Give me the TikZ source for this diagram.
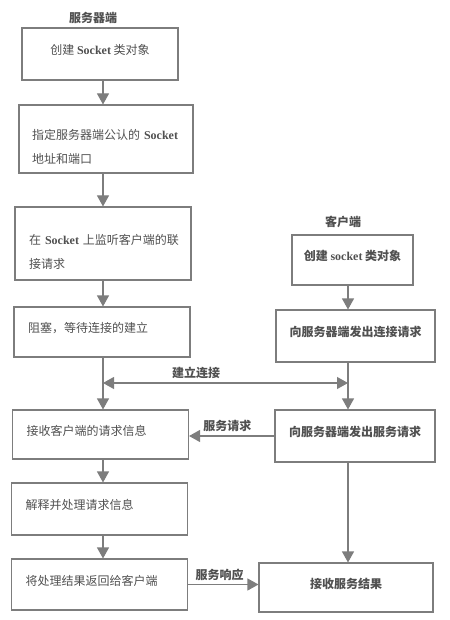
\documentclass[tikz,border=0pt]{standalone}
\usepackage{fontspec}
\setmainfont{Liberation Serif}
\newfontfamily\cjk{Noto Sans CJK SC}
\usetikzlibrary{arrows.meta}
\definecolor{linegray}{RGB}{125,125,125}
\definecolor{textgray}{RGB}{80,80,80}
\newcommand\lat[1]{{\rmfamily\bfseries #1}}

\begin{document}
\begin{tikzpicture}[x=1pt, y=-1pt,
  box/.style={rectangle, draw=linegray, line width=1.1pt, text=textgray, inner sep=0pt, text depth=9pt, font=\cjk\fontsize{12}{24}\selectfont},
  lbox/.style={box, align=left, minimum width=176pt, text width=148pt},
  rbox/.style={box, font=\cjk\bfseries\fontsize{12}{24}\selectfont},
  lab/.style={text=textgray, font=\cjk\bfseries\fontsize{12}{14}\selectfont},
  arr/.style={draw=linegray, line width=1.1pt, -{Triangle[width=12pt,length=11pt]}},
  darr/.style={draw=linegray, line width=1.1pt, {Triangle[width=12pt,length=11pt]}-{Triangle[width=12pt,length=11pt]}}]
  \useasboundingbox (0,0) rectangle (449,620);
  % server side
  \node[lab] (srv) at (93,18) {服务器端};
  \node[box, minimum width=156pt, minimum height=52pt] (s1) at (100,54) {创建 \lat{Socket} 类对象};
  \node[lbox, minimum width=174pt, minimum height=68pt] (s2) at (106,139) {\mbox{指定服务器端公认的 \lat{Socket}}\\地址和端口};
  \node[lbox, minimum height=73pt] (s3) at (103,243.5) {\mbox{在 \lat{Socket} 上监听客户端的联}\\接请求};
  \node[lbox, minimum height=50pt] (s4) at (102,332) {阻塞，等待连接的建立};
  \node[lbox, minimum height=49pt] (s5) at (100.5,434.5) {接收客户端的请求信息};
  \node[lbox, minimum height=52pt] (s6) at (99.5,509) {解释并处理请求信息};
  \node[lbox, minimum height=51pt] (s7) at (99.5,584.5) {将处理结果返回给客户端};
  % client side
  \node[lab] (cli) at (343,222) {客户端};
  \node[rbox, minimum width=121pt, minimum height=50pt] (c1) at (352.5,260) {创建 \lat{socket} 类对象};
  \node[rbox, minimum width=159pt, minimum height=52pt] (c2) at (355.5,336) {向服务器端发出连接请求};
  \node[rbox, minimum width=160pt, minimum height=52pt] (c3) at (355,436) {向服务器端发出服务请求};
  \node[rbox, minimum width=174pt, minimum height=49pt] (c4) at (346,587.5) {接收服务结果};
  % connectors
  \coordinate (lx) at (103,0);
  \coordinate (rx) at (348,0);
  \draw[arr] (s1.south -| lx) -- (s2.north -| lx);
  \draw[arr] (s2.south -| lx) -- (s3.north -| lx);
  \draw[arr] (s3.south -| lx) -- (s4.north -| lx);
  \draw[arr] (s4.south -| lx) -- (s5.north -| lx);
  \draw[arr] (s5.south -| lx) -- (s6.north -| lx);
  \draw[arr] (s6.south -| lx) -- (s7.north -| lx);
  \draw[arr] (c1.south -| rx) -- (c2.north -| rx);
  \draw[arr] (c2.south -| rx) -- (c3.north -| rx);
  \draw[arr] (c3.south -| rx) -- (c4.north -| rx);
  \coordinate (jl) at (103,383);
  \coordinate (jr) at (348,383);
  \draw[darr] (jl) -- node[lab, above, pos=0.38] {建立连接} (jr);
  \draw[arr] (c3.west) -- node[lab, above, pos=0.55] {服务请求} (c3.west -| s5.east);
  \draw[arr] (s7.east) -- node[lab, above, pos=0.45] {服务响应} (s7.east -| c4.west);
\end{tikzpicture}
\end{document}
